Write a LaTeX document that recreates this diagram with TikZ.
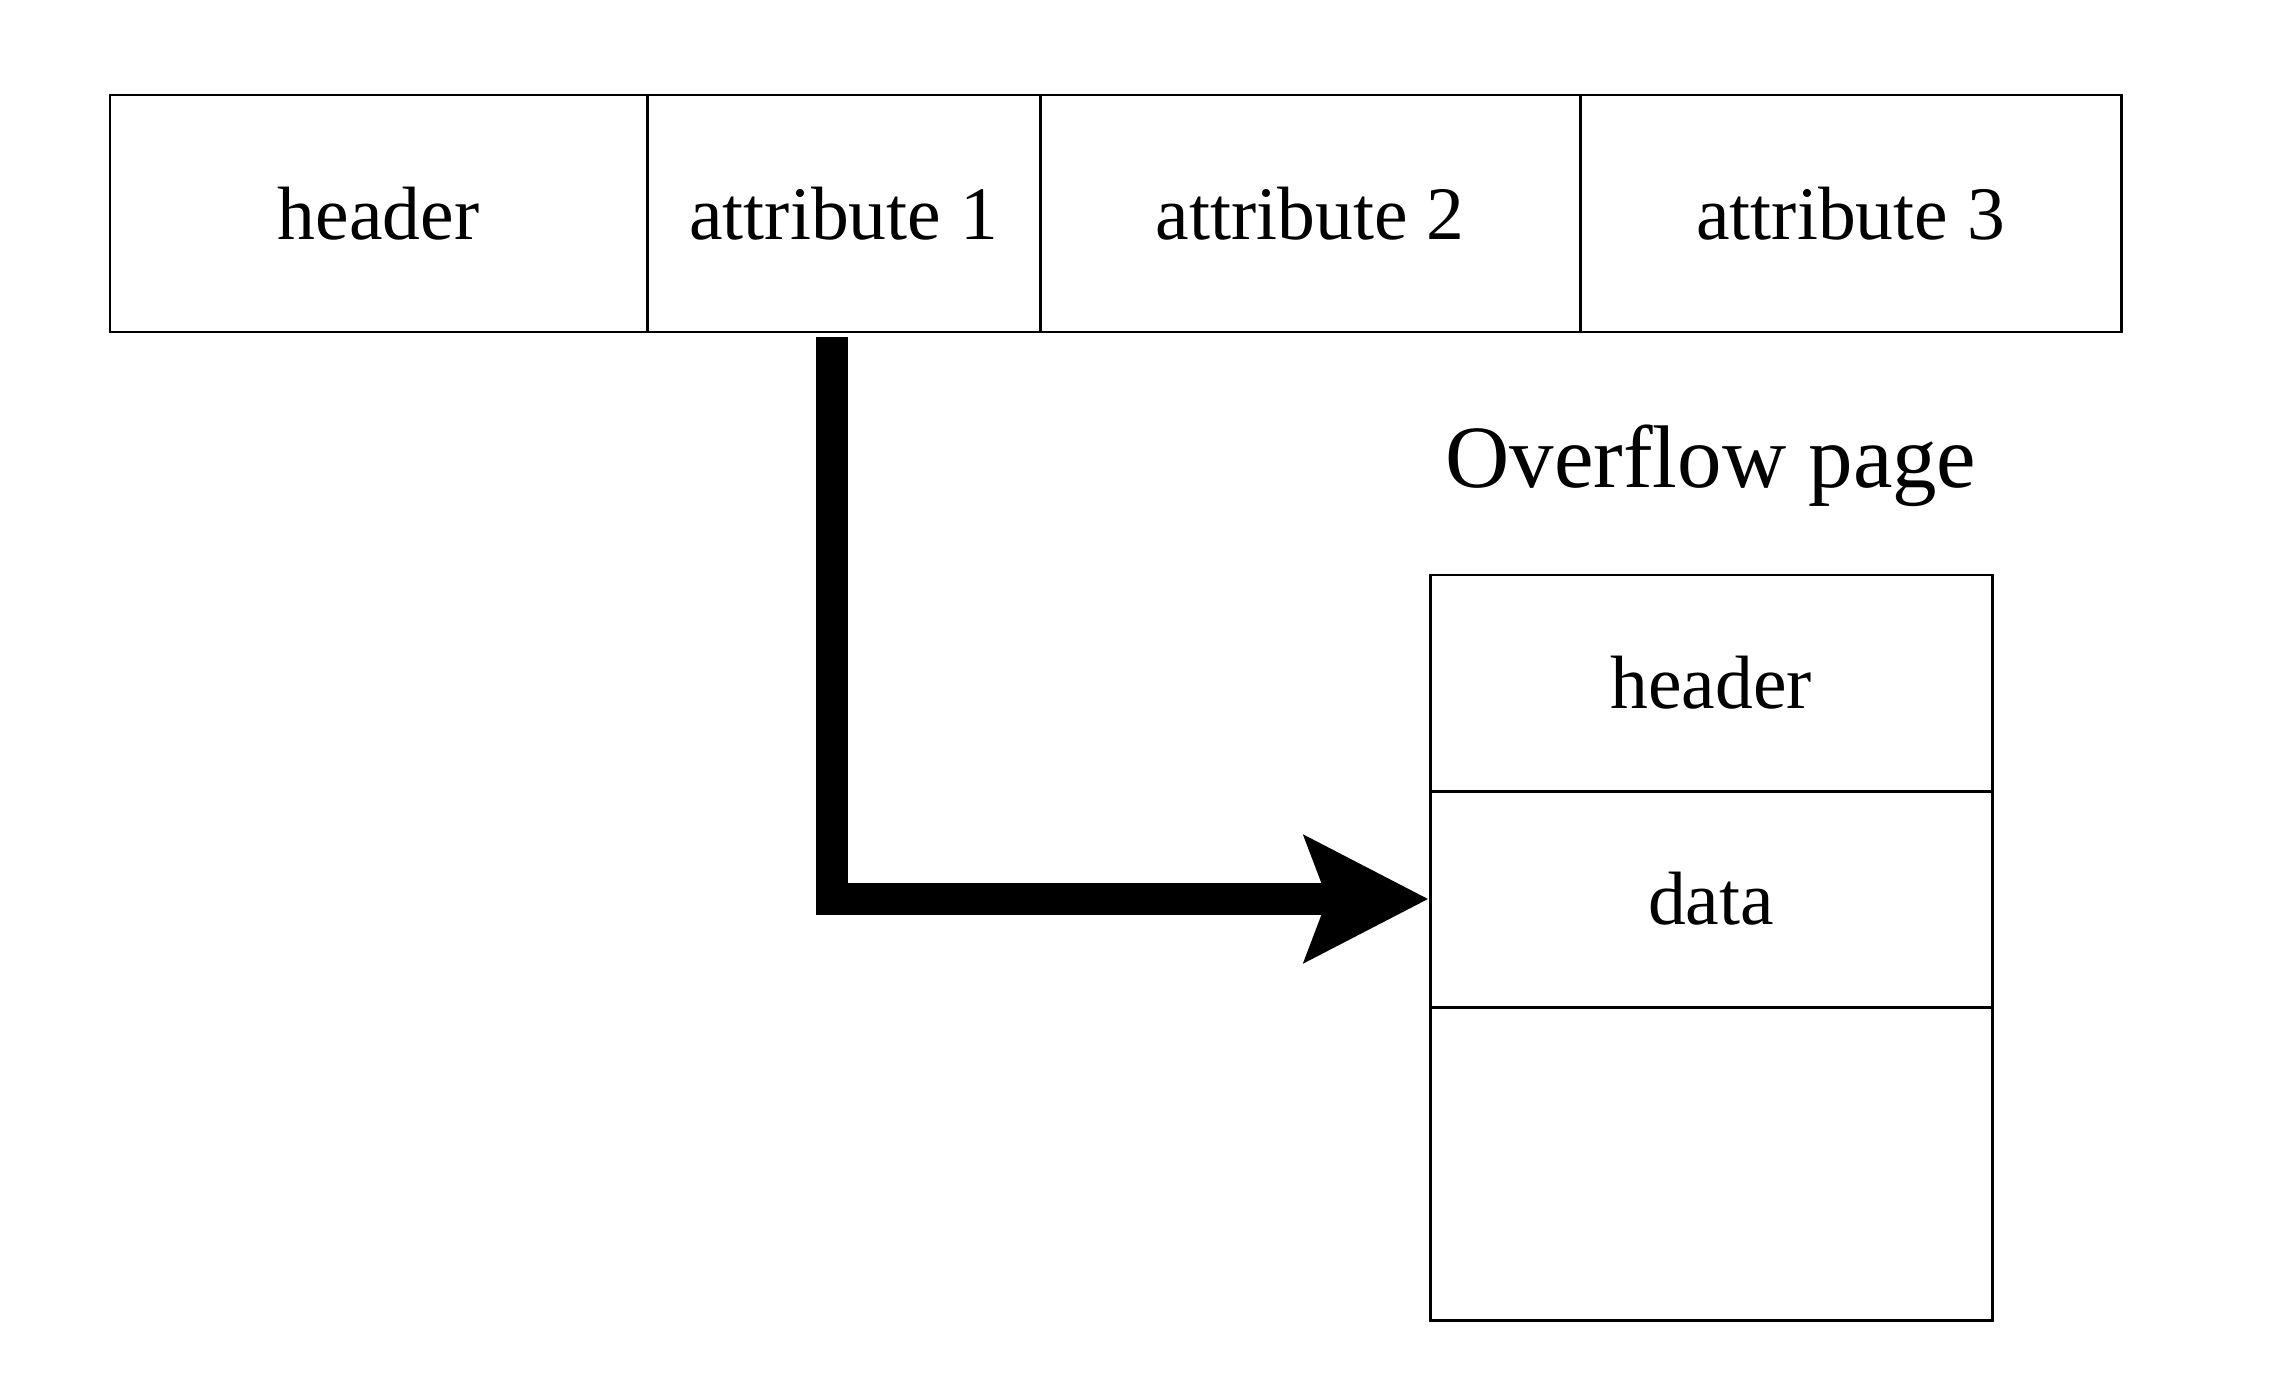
\documentclass[tikz,border=0pt]{standalone}
\usepackage{fontspec}
\setmainfont{Liberation Serif}
\usetikzlibrary{arrows.meta,positioning}

\begin{document}
\begin{tikzpicture}[
  cell/.style={draw, line width=0.85pt, inner sep=0pt, minimum height=23.7mm, font=\fontsize{21.5}{25}\selectfont},
  pagecell/.style={draw, line width=0.85pt, inner sep=0pt, minimum width=56.2mm, font=\fontsize{21.5}{25}\selectfont},
  pointer/.style={line width=3.2mm, -{Stealth[length=12.3mm, width=12.4mm, inset=2.2mm]}}
]
\useasboundingbox (0, 0) rectangle (22.7, -13.86);

% Tuple (horizontal layout)
\node[cell, minimum width=53.7mm] (hdr)   at (3.785,  -2.135) {header};
\node[cell, minimum width=39.3mm] (attr1) at (8.435,  -2.135) {attribute 1};
\node[cell, minimum width=54.0mm] (attr2) at (13.10,  -2.135) {attribute 2};
\node[cell, minimum width=54.1mm] (attr3) at (18.505, -2.135) {attribute 3};

% Overflow page (vertical layout)
\node[anchor=base, font=\fontsize{25.3}{30}\selectfont] (ovlabel) at (17.11, -4.87) {Overflow page};
\node[pagecell, minimum height=21.6mm] (ohdr)  at (17.11, -6.83)  {header};
\node[pagecell, minimum height=21.6mm] (odata) at (17.11, -8.99)  {data};
\node[pagecell, minimum height=31.3mm] (ofree) at (17.11, -11.635) {};

% Pointer: attribute 1 -> data
\coordinate (pstart) at (8.32, -3.37);
\draw[pointer] (pstart) |- (odata.west);

\end{tikzpicture}
\end{document}
